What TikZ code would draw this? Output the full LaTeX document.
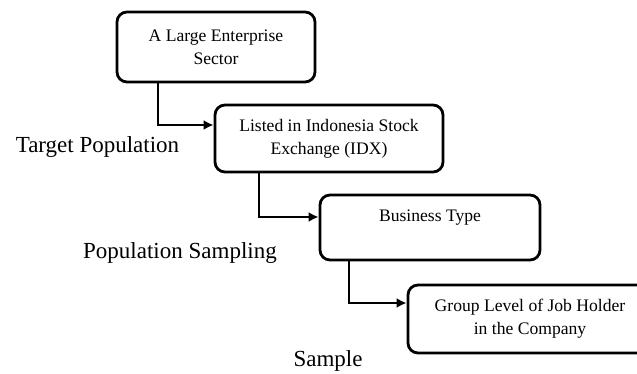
\documentclass[tikz,border=0pt]{standalone}
\usepackage{fontspec}
\setmainfont{Liberation Serif}
\usetikzlibrary{arrows.meta}

\begin{document}
\begin{tikzpicture}[x=0.5pt,y=-0.5pt,
    stage/.style={draw, line width=1.4pt, rounded corners=5pt, align=center,
      inner sep=0pt, font=\fontsize{8.8}{11.5}\selectfont},
    level/.style={font=\fontsize{11.5}{13}\selectfont},
    link/.style={-{Latex[length=5pt,width=5pt]}, line width=1.1pt}]
    \clip (0,0) rectangle (637,374);
    \node [stage, minimum width=99pt, minimum height=35pt] (sector) at (216,47) {A Large Enterprise\\Sector};
    \node [stage, minimum width=114pt, minimum height=33.5pt] (idx) at (329,138.5) {Listed in Indonesia Stock\\Exchange (IDX)};
    \node [stage, minimum width=110pt, minimum height=32.5pt] (business) at (430,227.5) {Business Type\\\mbox{}};
    \node [stage, minimum width=122pt, minimum height=34pt] (group) at (530,319) {Group Level of Job Holder\\in the Company};
    \node [level] (target) at (97.5,147) {Target Population};
    \node [level] (sampling) at (180,253) {Population Sampling};
    \node [level] (sample) at (328,361) {Sample};
    \draw [link] ([xshift=21pt]sector.south west) |- ([yshift=6.75pt]idx.west);
    \draw [link] ([xshift=22.5pt]idx.south west) |- ([yshift=5.25pt]business.west);
    \draw [link] ([xshift=15pt]business.south west) |- ([yshift=8pt]group.west);
  \end{tikzpicture}
\end{document}
